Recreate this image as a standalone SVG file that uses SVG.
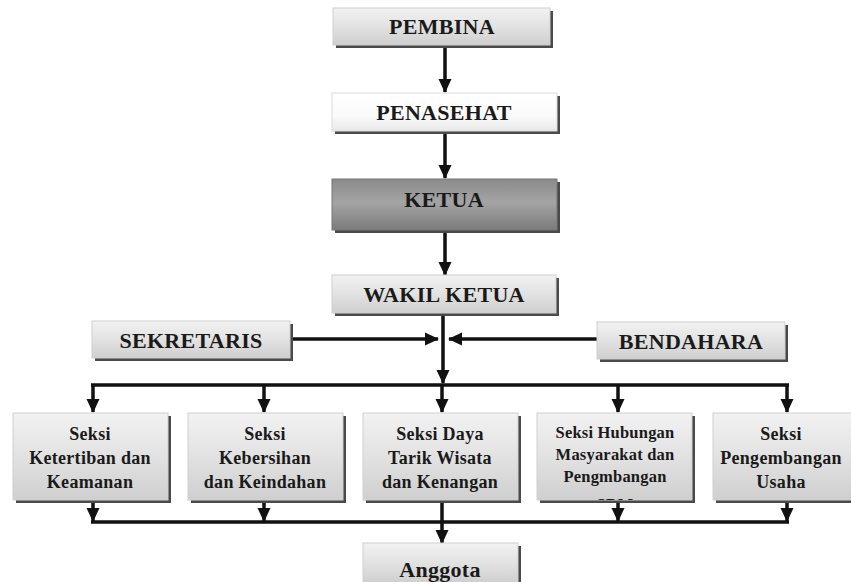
<svg xmlns="http://www.w3.org/2000/svg" width="851" height="582" viewBox="0 0 851 582">
<defs>
<linearGradient id="g" x1="0" y1="0" x2="0" y2="1">
<stop offset="0" stop-color="#f2f2f2"/><stop offset="0.5" stop-color="#e2e2e2"/><stop offset="1" stop-color="#cfcfcf"/>
</linearGradient>
<linearGradient id="gw" x1="0" y1="0" x2="0" y2="1">
<stop offset="0" stop-color="#ffffff"/><stop offset="0.6" stop-color="#fafafa"/><stop offset="1" stop-color="#e8e8e8"/>
</linearGradient>
<linearGradient id="gd" x1="0" y1="0" x2="0" y2="1">
<stop offset="0" stop-color="#8a8a8a"/><stop offset="0.45" stop-color="#a4a4a4"/><stop offset="1" stop-color="#7c7c7c"/>
</linearGradient>
<marker id="ah" markerUnits="userSpaceOnUse" markerWidth="14" markerHeight="15" viewBox="0 0 15 14" refX="14" refY="7" orient="auto">
<path d="M0,0 L15,7 L0,14 Z" fill="#111"/>
</marker>
<clipPath id="c4"><rect x="537" y="413" width="155" height="87"/></clipPath>
</defs>
<style>
.sh{fill:#4a4a4a}
.bx{fill:url(#g);stroke:#d0d0d0;stroke-width:1}
.bw{fill:url(#gw);stroke:#dcdcdc;stroke-width:1}
.bd{fill:url(#gd);stroke:#777;stroke-width:1}
.t{font-family:"Liberation Serif","Times New Roman",serif;font-weight:bold;fill:#1a1a1a;text-anchor:middle}
.h{font-size:22px;letter-spacing:0.3px}
.s{font-size:18px;letter-spacing:0.3px}
.s2{font-size:16.5px;letter-spacing:0.2px}
.ln{stroke:#111;stroke-width:3.5;fill:none}
</style>
<rect width="851" height="582" fill="#ffffff"/>
<g id="connectors">
<line class="ln" x1="445" y1="45" x2="445" y2="92" marker-end="url(#ah)"/>
<line class="ln" x1="445" y1="132" x2="445" y2="178" marker-end="url(#ah)"/>
<line class="ln" x1="445" y1="231" x2="445" y2="275" marker-end="url(#ah)"/>
<line class="ln" x1="443" y1="314" x2="443" y2="383" marker-end="url(#ah)"/>
<line class="ln" x1="291" y1="339" x2="438" y2="339" marker-end="url(#ah)"/>
<line class="ln" x1="597" y1="339" x2="449" y2="339" marker-end="url(#ah)"/>
<path class="ln" d="M91,385 H789"/>
<line class="ln" x1="93" y1="385" x2="93" y2="412" marker-end="url(#ah)"/>
<line class="ln" x1="264" y1="385" x2="264" y2="412" marker-end="url(#ah)"/>
<line class="ln" x1="442" y1="385" x2="442" y2="412" marker-end="url(#ah)"/>
<line class="ln" x1="618" y1="385" x2="618" y2="412" marker-end="url(#ah)"/>
<line class="ln" x1="787" y1="385" x2="787" y2="412" marker-end="url(#ah)"/>
<path class="ln" d="M91,522 H789"/>
<line class="ln" x1="93" y1="503" x2="93" y2="521" marker-end="url(#ah)"/>
<line class="ln" x1="264" y1="503" x2="264" y2="521" marker-end="url(#ah)"/>
<line class="ln" x1="442" y1="503" x2="442" y2="543" marker-end="url(#ah)"/>
<line class="ln" x1="618" y1="503" x2="618" y2="521" marker-end="url(#ah)"/>
<line class="ln" x1="787" y1="503" x2="787" y2="521" marker-end="url(#ah)"/>
</g>
<g id="pembina"><rect class="sh" x="336" y="11" width="217" height="37"/><rect class="bx" x="333" y="8" width="217" height="37"/><text class="t h" x="442" y="34">PEMBINA</text></g>
<g id="penasehat"><rect class="sh" x="335" y="96" width="225" height="38"/><rect class="bw" x="332" y="93" width="225" height="38"/><text class="t h" x="444" y="120">PENASEHAT</text></g>
<g id="ketua"><rect class="sh" x="335" y="182" width="225" height="51"/><rect class="bd" x="332" y="179" width="225" height="51"/><text class="t h" x="444" y="207">KETUA</text></g>
<g id="wakil-ketua"><rect class="sh" x="335" y="278" width="224" height="38"/><rect class="bx" x="332" y="275" width="224" height="38"/><text class="t h" x="444" y="302">WAKIL KETUA</text></g>
<g id="sekretaris"><rect class="sh" x="95" y="324" width="198" height="37"/><rect class="bx" x="92" y="321" width="198" height="37"/><text class="t h" x="191" y="348">SEKRETARIS</text></g>
<g id="bendahara"><rect class="sh" x="600" y="325" width="188" height="37"/><rect class="bx" x="597" y="322" width="188" height="37"/><text class="t h" x="691" y="349">BENDAHARA</text></g>
<g id="seksi-1"><rect class="sh" x="16" y="416" width="155" height="87"/><rect class="bx" x="13" y="413" width="155" height="87"/>
<text class="t s" x="90"><tspan x="90" y="440">Seksi</tspan><tspan x="90" y="464">Ketertiban dan</tspan><tspan x="90" y="488">Keamanan</tspan></text></g>
<g id="seksi-2"><rect class="sh" x="191" y="416" width="155" height="87"/><rect class="bx" x="188" y="413" width="155" height="87"/>
<text class="t s" x="265"><tspan x="265" y="440">Seksi</tspan><tspan x="265" y="464">Kebersihan</tspan><tspan x="265" y="488">dan Keindahan</tspan></text></g>
<g id="seksi-3"><rect class="sh" x="366" y="416" width="155" height="87"/><rect class="bx" x="363" y="413" width="155" height="87"/>
<text class="t s" x="440"><tspan x="440" y="440">Seksi Daya</tspan><tspan x="440" y="464">Tarik Wisata</tspan><tspan x="440" y="488">dan Kenangan</tspan></text></g>
<g id="seksi-4"><rect class="sh" x="540" y="416" width="155" height="87"/><rect class="bx" x="537" y="413" width="155" height="87"/>
<text class="t s2" x="615" clip-path="url(#c4)"><tspan x="615" y="438">Seksi Hubungan</tspan><tspan x="615" y="460">Masyarakat dan</tspan><tspan x="615" y="482">Pengmbangan</tspan><tspan x="615" y="510">SDM</tspan></text></g>
<g id="seksi-5"><rect class="sh" x="716" y="416" width="155" height="87"/><rect class="bx" x="713" y="413" width="155" height="87"/>
<text class="t s" x="781"><tspan x="781" y="440">Seksi</tspan><tspan x="781" y="464">Pengembangan</tspan><tspan x="781" y="488">Usaha</tspan></text></g>
<g id="anggota"><rect class="sh" x="366" y="546" width="155" height="40"/><rect class="bx" x="363" y="543" width="155" height="40"/><text class="t h" x="440" y="577">Anggota</text></g>
</svg>
